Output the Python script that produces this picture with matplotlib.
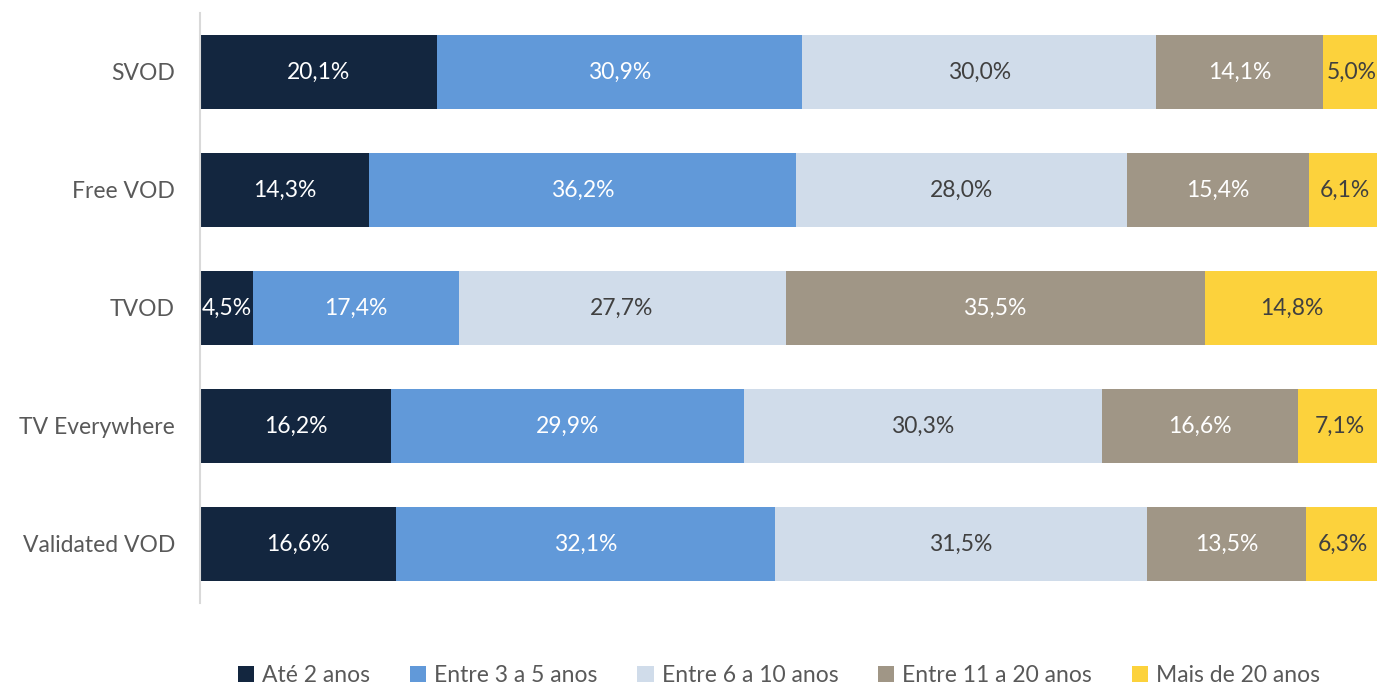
import matplotlib
matplotlib.use("Agg")
import matplotlib.pyplot as plt
import numpy as np

plt.rcParams['font.family'] = ['Lato', 'DejaVu Sans']

categories = ["SVOD", "Free VOD", "TVOD", "TV Everywhere", "Validated VOD"]
series_names = ["Até 2 anos", "Entre 3 a 5 anos", "Entre 6 a 10 anos", "Entre 11 a 20 anos", "Mais de 20 anos"]
ate2 = [20.1, 14.3, 4.5, 16.2, 16.6]
e3a5 = [30.9, 36.2, 17.4, 29.9, 32.1]
e6a10 = [30.0, 28.0, 27.7, 30.3, 31.5]
e11a20 = [14.1, 15.4, 35.5, 16.6, 13.5]
mais20 = [5.0, 6.1, 14.8, 7.1, 6.3]

series = [ate2, e3a5, e6a10, e11a20, mais20]
colors = ["#13263F", "#6199D9", "#D0DCEA", "#A09686", "#FCD23C"]
text_colors = ["white", "white", "#404040", "white", "#404040"]

fig = plt.figure(figsize=(13.77, 6.86), dpi=100)
ax = fig.add_axes([200/1377, 1 - 603/686, 1177/1377, 590/686])

y = np.arange(len(categories))
left = np.zeros(len(categories))
for name, vals, c, tc in zip(series_names, series, colors, text_colors):
    vals = np.array(vals)
    ax.barh(y, vals, left=left, height=0.62, color=c, label=name)
    for yi, l, v in zip(y, left, vals):
        ax.text(l + v / 2, yi, f"{v:.1f}%".replace('.', ','), ha='center', va='center',
                color=tc, fontsize=16.5)
    left = left + vals

ax.set_xlim(0, 99.7)
ax.set_ylim(len(categories) - 0.5, -0.5)
ax.set_yticks(y)
ax.set_yticklabels(categories, fontsize=16.5, color="#595959")
ax.tick_params(axis='y', length=0, pad=18)
ax.set_xticks([])
for s in ['top', 'right', 'bottom']:
    ax.spines[s].set_visible(False)
ax.spines['left'].set_color('#D9D9D9')
ax.spines['left'].set_linewidth(1.5)

leg = fig.legend(loc='lower center', ncol=5, bbox_to_anchor=(779/1377, -0.03), frameon=False,
                 fontsize=16.5, handlelength=0.7, handleheight=0.7, handletextpad=0.35,
                 columnspacing=1.75, labelcolor="#595959")

fig.savefig("out.png", dpi=100)
